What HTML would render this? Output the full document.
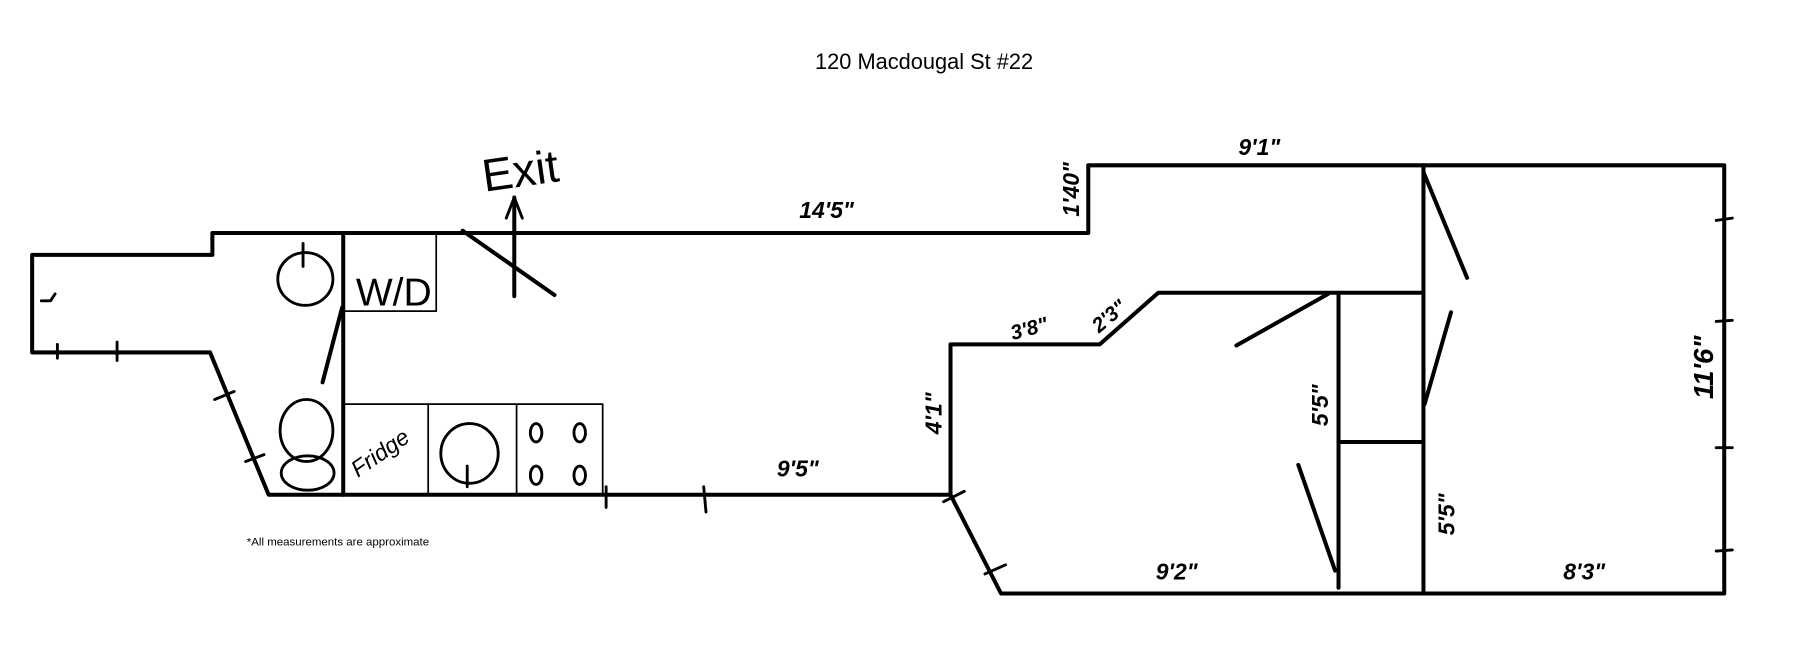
<!DOCTYPE html>
<html><head><meta charset="utf-8"><style>html,body{margin:0;padding:0;background:#fff;}svg{display:block}</style></head>
<body>
<svg width="1800" height="664" viewBox="0 0 1568 578.4" preserveAspectRatio="none" xmlns="http://www.w3.org/2000/svg">
<rect width="1568" height="578.4" fill="#fff"/>
<text x="805" y="60" font-family="Liberation Sans, sans-serif" font-size="19" text-anchor="middle" fill="#000">120 Macdougal St #22</text>
<g stroke="#000" stroke-width="3.5" fill="none" stroke-linecap="round" stroke-linejoin="round">
<polyline points="28,222 185,222 185,203 948,203 948,144 1502,144 1502,517 872,517 828,431 234,431 183,307 28,307 28,222"/>
<polyline points="828,431 828,300 958,300 1009,255 1240,255"/>
<line x1="299" y1="203" x2="299" y2="431"/>
<line x1="1240" y1="144" x2="1240" y2="517"/>
<line x1="1166" y1="255" x2="1166" y2="512"/>
<line x1="1166" y1="385" x2="1240" y2="385"/>
<line x1="281" y1="333" x2="298" y2="268"/>
<line x1="403" y1="201" x2="483" y2="257"/>
<line x1="448" y1="258" x2="448" y2="172"/>
<polyline points="441,190 448,172 455,190" stroke-width="2.5"/>
<line x1="1240" y1="150" x2="1278" y2="242"/>
<line x1="1264" y1="272" x2="1241" y2="352"/>
<line x1="1077" y1="301" x2="1157" y2="256"/>
<line x1="1131" y1="405" x2="1163" y2="497"/>
<g stroke-width="2.5">
<line x1="50" y1="300" x2="50" y2="312"/><line x1="102" y1="298" x2="102" y2="314"/>
<line x1="187" y1="348" x2="204" y2="341"/><line x1="214" y1="402" x2="230" y2="396"/>
<line x1="528" y1="424" x2="528" y2="442"/><line x1="613" y1="424" x2="615" y2="446"/>
<line x1="822" y1="437" x2="840" y2="428"/><line x1="858" y1="500" x2="876" y2="492"/>
<line x1="1495" y1="192" x2="1509" y2="190"/><line x1="1495" y1="280" x2="1509" y2="279"/>
<line x1="1495" y1="390" x2="1509" y2="390"/><line x1="1495" y1="480" x2="1509" y2="479"/>
<polyline points="36,262 44,262 48,256 M44,262 50,268 M44,262 46,272"/>
</g>
<g stroke-width="1.5">
<rect x="299" y="203" width="81" height="68"/>
<rect x="299" y="352" width="226" height="79"/>
<line x1="373" y1="352" x2="373" y2="431"/>
<line x1="450" y1="352" x2="450" y2="431"/>
</g>
<g stroke-width="2.5">
<ellipse cx="266" cy="243" rx="24" ry="23"/><line x1="264" y1="212" x2="264" y2="232"/>
<ellipse cx="267" cy="375" rx="23" ry="27"/><ellipse cx="268" cy="412" rx="23" ry="15"/>
<ellipse cx="409" cy="395" rx="25" ry="26"/><line x1="407" y1="406" x2="407" y2="424"/>
<ellipse cx="467" cy="377" rx="5" ry="8"/><ellipse cx="505" cy="377" rx="5" ry="8"/>
<ellipse cx="467" cy="414" rx="5" ry="8"/><ellipse cx="505" cy="414" rx="5" ry="8"/>
</g>
</g>
<g font-family="Liberation Sans, sans-serif" fill="#000" font-style="italic">
<text x="420" y="163" font-size="40" transform="rotate(-8 450 150)" font-style="normal" font-weight="300">Exit</text>
<text x="310" y="266" font-size="34" font-style="normal">W/D</text>
<text x="720" y="190" font-size="20" font-weight="bold" text-anchor="middle">14'5"</text>
<text x="1097" y="135" font-size="20" font-weight="bold" text-anchor="middle">9'1"</text>
<text x="695" y="415" font-size="20" font-weight="bold" text-anchor="middle">9'5"</text>
<text x="1025" y="505" font-size="20" font-weight="bold" text-anchor="middle">9'2"</text>
<text x="1380" y="505" font-size="20" font-weight="bold" text-anchor="middle">8'3"</text>
<text x="898" y="292" font-size="18" font-weight="bold" text-anchor="middle" transform="rotate(-15 898 292)">3'8"</text>
<text x="970" y="280" font-size="18" font-weight="bold" text-anchor="middle" transform="rotate(-40 970 280)">2'3"</text>
<text transform="translate(820,360) rotate(-90)" font-size="20" font-weight="bold" text-anchor="middle">4'1"</text>
<text transform="translate(940,165) rotate(-90)" font-size="20" font-weight="bold" text-anchor="middle">1'40"</text>
<text transform="translate(1157,353) rotate(-90)" font-size="20" font-weight="bold" text-anchor="middle">5'5"</text>
<text transform="translate(1267,448) rotate(-90)" font-size="20" font-weight="bold" text-anchor="middle">5'5"</text>
<text transform="translate(1492,320) rotate(-90)" font-size="24" font-weight="bold" text-anchor="middle">11'6"</text>
<text transform="translate(335,400) rotate(-35)" font-size="20" text-anchor="middle">Fridge</text>
<text x="215" y="475" font-size="10" font-style="normal">*All measurements are approximate</text>
</g>
</svg>
</body></html>
